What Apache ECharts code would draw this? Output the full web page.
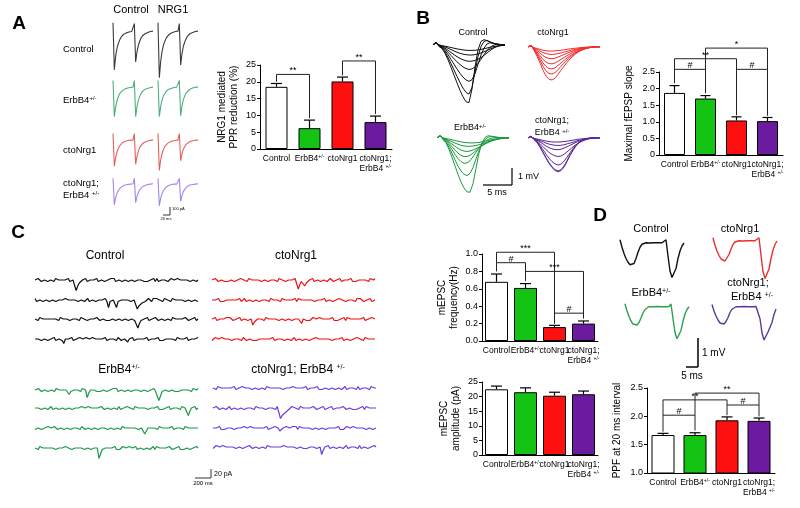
<!DOCTYPE html>
<html><head><meta charset="utf-8">
<script src="https://cdn.jsdelivr.net/npm/echarts@6/dist/echarts.min.js"></script>
<style>html,body{margin:0;padding:0;background:#fff}#c{width:800px;height:508px}</style>
</head><body><div id="c"></div>
<script>
// ---------------- DATA ----------------
const groups = ['Control', 'ErbB4+/-', 'ctoNrg1', 'ctoNrg1;\nErbB4 +/-'];
// A: NRG1 mediated PPR reduction (%)
const pprReduction = [18.5, 6.2, 20.1, 8.0];
const pprReductionErr = [1.0, 2.4, 1.3, 1.8];
const pprSig = [[0, 1, 22.2, 20.0, 9.2, '**'], [2, 3, 26.2, 21.9, 10.4, '**']];
// B: maximal fEPSP slope
const fepspSlope = [1.87, 1.70, 1.04, 1.02];
const fepspSlopeErr = [0.22, 0.09, 0.11, 0.11];
const fepspSig = [[0, 1, 2.58, 2.16, 1.86, '#'], [0, 2, 2.9, 2.58, 1.2, '**'], [1, 3, 3.22, 2.58, 2.58, '*'], [2, 3, 2.58, 1.2, 1.18, '#']];
// C: mEPSC frequency and amplitude
const mepscFreq = [0.68, 0.61, 0.16, 0.20];
const mepscFreqErr = [0.09, 0.05, 0.02, 0.03];
const freqSig = [[0, 1, 0.9, 0.8, 0.69, '#'], [0, 2, 1.02, 0.9, 0.2, '***'], [1, 3, 0.8, 0.69, 0.26, '***'], [2, 3, 0.32, 0.2, 0.26, '#']];
const mepscAmp = [22.5, 21.5, 20.3, 20.8];
const mepscAmpErr = [1.1, 1.5, 1.2, 1.1];
// D: PPF at 20 ms interval
const ppf20 = [1.67, 1.67, 1.93, 1.92];
const ppf20Err = [0.03, 0.04, 0.06, 0.05];
const ppfSig = [[0, 1, 2.02, 1.73, 1.75, '#'], [0, 2, 2.29, 2.02, 2.2, '**'], [1, 3, 2.41, 2.02, 2.2, '**'], [2, 3, 2.2, 2.02, 2.0, '#']];

// A traces (pA): paired EPSCs, [row][column: Control, NRG1]
const epscA = [
  [[16,-91,-60,-42,-31,-23,-17,-13,-10,-8,-7,-6,-5,-4,-4,-3,14,-73,-50,-36,-26,-19,-14,-11,-9,-7,-6,-5,-4,-3,-3],
   [16,-109,-72,-50,-36,-27,-20,-15,-12,-9,-7,-6,-5,-4,-4,-3,14,-80,-54,-38,-28,-21,-15,-12,-9,-7,-6,-5,-4,-3,-3]],
  [[12,-70,-48,-34,-25,-18,-14,-11,-9,-7,-6,-5,-4,-4,-3,-3,12,-70,-47,-33,-24,-18,-13,-10,-8,-7,-6,-5,-4,-3,-3],
   [12,-70,-47,-33,-24,-18,-13,-10,-8,-7,-6,-5,-4,-4,-3,-3,12,-68,-46,-32,-23,-17,-13,-10,-8,-6,-5,-4,-4,-3,-3]],
  [[12,-62,-42,-30,-22,-16,-12,-9,-7,-6,-5,-4,-4,-3,-3,-3,12,-58,-40,-28,-20,-15,-11,-9,-7,-6,-5,-4,-3,-3,-3],
   [12,-72,-48,-34,-25,-18,-14,-11,-9,-7,-6,-5,-4,-4,-3,-3,12,-50,-34,-24,-18,-13,-10,-8,-6,-5,-4,-4,-3,-3,-3]],
  [[10,-50,-34,-24,-18,-13,-10,-8,-6,-5,-4,-4,-3,-3,-3,-2,10,-45,-31,-22,-16,-12,-9,-7,-6,-5,-4,-3,-3,-3,-2],
   [10,-52,-35,-25,-18,-14,-10,-8,-6,-5,-4,-4,-3,-3,-3,-2,10,-42,-29,-20,-15,-11,-8,-7,-5,-4,-4,-3,-3,-3,-2]]
];
// B traces (mV): fEPSPs at increasing stimulus intensity
const fepspControl = [
  [0,0.1,0,-0.05,-0.08,-0.12,-0.16,-0.2,-0.24,-0.27,-0.3,-0.32,-0.33,-0.33,-0.32,-0.3,-0.27,-0.23,-0.19,-0.15,-0.11,-0.08,-0.05,-0.03,-0.02],
  [0,0.1,-0.02,-0.07,-0.13,-0.2,-0.28,-0.36,-0.44,-0.5,-0.55,-0.58,-0.6,-0.6,-0.58,-0.54,-0.48,-0.41,-0.33,-0.25,-0.18,-0.12,-0.07,-0.04,-0.02],
  [0,0.12,-0.03,-0.1,-0.2,-0.32,-0.45,-0.58,-0.7,-0.8,-0.88,-0.94,-0.97,-0.96,-0.92,-0.85,-0.75,-0.62,-0.48,-0.34,-0.22,-0.12,-0.05,-0.02,0],
  [0,0.12,-0.05,-0.12,-0.26,-0.44,-0.63,-0.82,-1.0,-1.16,-1.3,-1.4,-1.45,-1.42,-1.3,-1.1,-0.85,-0.58,-0.34,-0.15,-0.04,0.02,0.02,0,0],
  [0,0.14,-0.06,-0.15,-0.34,-0.58,-0.86,-1.14,-1.42,-1.68,-1.9,-2.07,-2.15,-2.05,-1.7,-1.15,-0.6,-0.2,0.05,0.12,0.1,0.06,0.03,0.01,0],
  [0,0.15,-0.08,-0.18,-0.42,-0.74,-1.1,-1.48,-1.86,-2.22,-2.55,-2.8,-2.9,-2.5,-1.6,-0.7,-0.1,0.2,0.25,0.18,0.1,0.05,0.02,0,0],
  [0,0.16,-0.1,-0.22,-0.5,-0.88,-1.32,-1.78,-2.24,-2.68,-3.06,-3.35,-3.4,-2.6,-1.3,-0.3,0.2,0.3,0.25,0.15,0.08,0.04,0.02,0,0]
];
const fepspCto = [
  [0,0.05,-0.05,-0.1,-0.15,-0.2,-0.23,-0.25,-0.25,-0.24,-0.22,-0.2,-0.18,-0.15,-0.12,-0.1,-0.08,-0.06,-0.04,-0.03,-0.02,-0.01,0,0,0],
  [0,0.05,-0.07,-0.15,-0.25,-0.34,-0.4,-0.44,-0.45,-0.43,-0.4,-0.36,-0.31,-0.27,-0.22,-0.18,-0.14,-0.1,-0.07,-0.05,-0.03,-0.02,-0.01,0,0],
  [0,0.06,-0.1,-0.22,-0.37,-0.52,-0.63,-0.69,-0.7,-0.67,-0.6,-0.53,-0.45,-0.38,-0.31,-0.25,-0.19,-0.14,-0.1,-0.07,-0.04,-0.02,-0.01,0,0],
  [0,0.07,-0.12,-0.3,-0.52,-0.74,-0.9,-0.99,-1.0,-0.95,-0.85,-0.74,-0.63,-0.52,-0.42,-0.33,-0.25,-0.18,-0.12,-0.08,-0.05,-0.03,-0.01,0,0],
  [0,0.08,-0.15,-0.38,-0.66,-0.95,-1.16,-1.28,-1.3,-1.24,-1.1,-0.95,-0.8,-0.66,-0.53,-0.42,-0.32,-0.23,-0.16,-0.1,-0.06,-0.03,-0.01,0,0],
  [0,0.08,-0.18,-0.46,-0.8,-1.15,-1.42,-1.57,-1.6,-1.52,-1.35,-1.15,-0.96,-0.78,-0.62,-0.48,-0.36,-0.26,-0.18,-0.12,-0.07,-0.04,-0.02,0,0],
  [0,0.1,-0.2,-0.55,-0.95,-1.38,-1.72,-1.92,-1.95,-1.85,-1.62,-1.38,-1.14,-0.92,-0.72,-0.55,-0.4,-0.28,-0.19,-0.12,-0.07,-0.04,-0.02,0,0]
];
const fepspErbB4 = [
  [0,0.1,0,-0.04,-0.08,-0.12,-0.16,-0.2,-0.24,-0.27,-0.29,-0.3,-0.3,-0.29,-0.27,-0.24,-0.2,-0.16,-0.12,-0.09,-0.06,-0.04,-0.02,-0.01,0],
  [0,0.1,-0.02,-0.08,-0.15,-0.23,-0.31,-0.38,-0.44,-0.48,-0.5,-0.5,-0.48,-0.45,-0.41,-0.36,-0.3,-0.24,-0.18,-0.13,-0.09,-0.06,-0.03,-0.01,0],
  [0,0.12,-0.04,-0.12,-0.24,-0.37,-0.5,-0.62,-0.72,-0.78,-0.8,-0.78,-0.72,-0.64,-0.55,-0.46,-0.37,-0.28,-0.2,-0.14,-0.09,-0.05,-0.02,0,0],
  [0,0.12,-0.05,-0.15,-0.32,-0.52,-0.72,-0.9,-1.03,-1.1,-1.1,-1.03,-0.9,-0.75,-0.6,-0.46,-0.34,-0.24,-0.16,-0.1,-0.06,-0.03,-0.01,0,0],
  [0,0.13,-0.06,-0.2,-0.42,-0.7,-0.98,-1.22,-1.4,-1.5,-1.48,-1.35,-1.12,-0.86,-0.6,-0.38,-0.22,-0.1,-0.03,0,0.02,0.01,0,0,0],
  [0,0.14,-0.08,-0.25,-0.55,-0.92,-1.3,-1.66,-1.95,-2.15,-2.22,-2.1,-1.75,-1.25,-0.75,-0.35,-0.1,0.03,0.08,0.06,0.03,0.01,0,0,0],
  [0,0.15,-0.1,-0.3,-0.68,-1.15,-1.65,-2.15,-2.6,-2.95,-3.18,-3.2,-2.7,-1.8,-0.9,-0.3,0.02,0.12,0.1,0.06,0.03,0.01,0,0,0]
];
const fepspDouble = [
  [0,0.06,-0.03,-0.07,-0.11,-0.15,-0.19,-0.22,-0.24,-0.25,-0.25,-0.24,-0.22,-0.2,-0.17,-0.14,-0.11,-0.08,-0.06,-0.04,-0.02,-0.01,0,0,0],
  [0,0.07,-0.04,-0.1,-0.17,-0.24,-0.31,-0.37,-0.41,-0.44,-0.45,-0.44,-0.41,-0.36,-0.31,-0.26,-0.2,-0.15,-0.11,-0.07,-0.04,-0.02,-0.01,0,0],
  [0,0.08,-0.05,-0.13,-0.24,-0.36,-0.48,-0.58,-0.65,-0.69,-0.7,-0.67,-0.61,-0.53,-0.44,-0.35,-0.27,-0.2,-0.14,-0.09,-0.05,-0.03,-0.01,0,0],
  [0,0.08,-0.07,-0.18,-0.34,-0.52,-0.7,-0.86,-0.98,-1.06,-1.1,-1.07,-0.97,-0.83,-0.68,-0.53,-0.4,-0.29,-0.2,-0.13,-0.08,-0.04,-0.02,0,0],
  [0,0.09,-0.08,-0.22,-0.44,-0.7,-0.96,-1.2,-1.4,-1.53,-1.6,-1.55,-1.38,-1.14,-0.88,-0.64,-0.44,-0.28,-0.17,-0.1,-0.05,-0.02,0,0,0],
  [0,0.1,-0.1,-0.26,-0.52,-0.84,-1.16,-1.46,-1.7,-1.87,-1.95,-1.88,-1.66,-1.34,-1.0,-0.7,-0.45,-0.27,-0.15,-0.08,-0.04,-0.02,0,0,0],
  [0,0.1,-0.1,-0.28,-0.55,-0.88,-1.2,-1.5,-1.75,-1.92,-2.0,-1.93,-1.72,-1.4,-1.05,-0.74,-0.48,-0.29,-0.16,-0.08,-0.04,-0.02,0,0,0]
];
// C traces: mEPSC recordings, one digit per sample (7 = baseline, lower = inward current)
const mepscControl = [
  '7787677867776877876778677703567786778768677867768786778677867786776786767778686776786787768778787667786 7',
  '8677867786778677876877876776778678677867767786267782677876786777134566787687877868777687787678677867786',
  '7768778767678776877878677877687786778768767786767786778677867786714677786777876778677868776787787667786 7',
  '7876677867778677864767786776877687768778767786778776886778577867787677867767786767767877687787786778768'
];
const mepscCto = [
  '7787677867677867768777687787678677867787768778677876871467356778677867786787667786776778676776787768778',
  '7677867677778767786786778677866787768778776877876778687767877786778768677867768778677877687876677867 7',
  '7786778768787667786778677356777768778767867786778677876478676787768778767786767778687767876778677687 7',
  '6787768778786778776876778676777787677867787667786786778677867768778767778677876867786776877868776787'
];
const mepscErbB4 = [
  '77876778677768778767746778776877257778676778677687867786778677876677867778670367776778676776787768778',
  '78766778678677867786778677876877687787677876778677868677687786877678776776778676777867787768778257786 7',
  '67786776877787677867786778776886778677867787667786777687787677786778357678776877876778677778687767876 7',
  '7768778767778677876877867767778677867787036778767786767877687788677867786786877678778766778676778677687'
];
const mepscDouble = [
  '7868776787677867768778766778677768778767778677876877876778677677867677867786778678677877686778776877 7',
  '7787677867867786778667877687787867787768702345678777687787677876677867778677876876778676777868776787',
  '7677867677778677876877687787676778677687756778776878687767878677867786778767786767877687787876677867 7',
  '6787768778787667786777876778677868776787776877876776778676777786772577867786778678677877686778677687'
];
// D traces (mV): paired-pulse fEPSPs at 20 ms interval
const ppfControl = [0.15,-0.15,-0.4,-0.6,-0.75,-0.85,-0.88,-0.8,-0.6,-0.35,-0.15,-0.03,0.02,0.03,0.03,0.02,0.03,0.03,0.02,0.03,0.02,0.03,0.03,0.15,-0.5,-1.1,-1.36,-1.3,-1.0,-0.6,-0.3,-0.1,0.02];
const ppfCto = [0.15,-0.15,-0.38,-0.56,-0.7,-0.77,-0.78,-0.7,-0.52,-0.3,-0.12,-0.02,0.02,0.03,0.03,0.02,0.03,0.03,0.02,0.03,0.02,0.03,0.03,0.15,-0.55,-1.2,-1.48,-1.42,-1.1,-0.68,-0.34,-0.12,0.02];
const ppfErbB4 = [0.15,-0.14,-0.36,-0.54,-0.66,-0.72,-0.7,-0.6,-0.42,-0.22,-0.08,0.0,0.03,0.04,0.03,0.03,0.04,0.03,0.03,0.04,0.03,0.03,0.04,0.14,-0.45,-1.0,-1.25,-1.2,-0.92,-0.55,-0.26,-0.08,0.03];
const ppfDouble = [0.12,-0.14,-0.34,-0.5,-0.62,-0.68,-0.66,-0.56,-0.4,-0.2,-0.07,0.0,0.03,0.03,0.03,0.03,0.04,0.03,0.03,0.03,0.03,0.03,0.04,0.12,-0.45,-1.02,-1.3,-1.22,-0.98,-0.92,-0.6,-0.28,-0.06];

// ---------------- BUILD ----------------
const FONT = '"Liberation Sans", Arial, sans-serif';
const barColors = ['#ffffff', '#14c414', '#ff1010', '#6c1aa0'];
const grids = [], xAxes = [], yAxes = [], series = [];
const supRich = fs => ({ s: { fontSize: Math.round(fs * 0.62), verticalAlign: 'top', lineHeight: Math.round(fs * 0.62), fontFamily: FONT, fill: '#000', color: '#000' } });
const catFmt = v => v.replace('+/-', '{s|+/-}');

function barPanel(o) {
  const gi = grids.length;
  grids.push({ left: o.left, top: o.top, width: o.width, height: o.height });
  xAxes.push({ type: 'category', gridIndex: gi, data: groups,
    axisLine: { lineStyle: { color: '#000', width: 1 } }, axisTick: { show: false },
    axisLabel: { interval: 0, formatter: catFmt, fontSize: o.catFs || 8.5, color: '#000', fontFamily: FONT, margin: 5, lineHeight: 10, rich: supRich(o.catFs || 8.5) } });
  yAxes.push({ type: 'value', gridIndex: gi, min: o.min, max: o.max, interval: o.interval,
    name: o.name, nameLocation: 'middle', nameGap: o.nameGap, nameRotate: 90,
    nameTextStyle: { fontSize: o.nameFs || 10, fontFamily: FONT, color: '#000', lineHeight: 12 },
    axisLine: { show: true, lineStyle: { color: '#000' } }, axisTick: { show: true, length: 3, lineStyle: { color: '#000' } },
    axisLabel: { fontSize: 9, color: '#000', fontFamily: FONT, margin: 4, formatter: o.fmt }, splitLine: { show: false } });
  series.push({ type: 'bar', xAxisIndex: gi, yAxisIndex: gi, barWidth: o.barWidth, silent: true,
    data: o.values.map((v, i) => ({ value: v, itemStyle: { color: barColors[i] } })),
    itemStyle: { borderColor: '#000', borderWidth: 1 } });
  series.push({ type: 'custom', xAxisIndex: gi, yAxisIndex: gi, silent: true, z: 3, clip: false,
    data: o.values.map((v, i) => [i, v, o.errs[i]]), encode: { x: 0, y: 1 },
    renderItem: (p, api) => {
      const x = api.value(0), v = api.value(1), e = api.value(2);
      const a = api.coord([x, v]), b = api.coord([x, v + e]); const hw = o.capW / 2;
      return { type: 'group', children: [
        { type: 'line', shape: { x1: a[0], y1: a[1], x2: b[0], y2: b[1] }, style: { stroke: '#000', lineWidth: 1.2 } },
        { type: 'line', shape: { x1: b[0] - hw, y1: b[1], x2: b[0] + hw, y2: b[1] }, style: { stroke: '#000', lineWidth: 1.2 } }] };
    } });
  series.push({ type: 'custom', xAxisIndex: gi, yAxisIndex: gi, silent: true, z: 4, clip: false,
    data: o.sig.map(b => b.slice(0, 5)), encode: { x: 0, y: 2 },
    renderItem: (p, api) => {
      const i = api.value(0), j = api.value(1), h = api.value(2), bi = api.value(3), bj = api.value(4);
      const p1 = api.coord([i, bi]), p2 = api.coord([i, h]), p3 = api.coord([j, h]), p4 = api.coord([j, bj]);
      const lab = o.sig[p.dataIndex][5];
      return { type: 'group', children: [
        { type: 'polyline', shape: { points: [p1, p2, p3, p4] }, style: { stroke: '#222', lineWidth: 1, fill: null } },
        { type: 'text', x: (p2[0] + p3[0]) / 2, y: p2[1] + 1, style: { text: lab, align: 'center', verticalAlign: 'bottom', fontSize: 9, fontFamily: FONT, fill: '#000' } }] };
    } });
}

function tracePanel(rect, xmax, ymin, ymax, traces, color, width) {
  const gi = grids.length;
  grids.push(rect);
  xAxes.push({ type: 'value', gridIndex: gi, min: 0, max: xmax, show: false });
  yAxes.push({ type: 'value', gridIndex: gi, min: ymin, max: ymax, show: false });
  traces.forEach(t => series.push({ type: 'line', xAxisIndex: gi, yAxisIndex: gi, silent: true, clip: false,
    data: t.map((v, i) => [i, v]), symbol: 'none', lineStyle: { color: color, width: width } }));
}
const digits = s => s.replace(/ /g, '').split('').map(Number);

// A traces
const aColors = ['#3a3a3a', '#4cb07e', '#e8605a', '#a585e8'];
const aTops = [21, 77, 130, 174];
const aLefts = [113, 158];
epscA.forEach((row, r) => row.forEach((tr, c) =>
  tracePanel({ left: aLefts[c], top: aTops[r], width: 40, height: 59.4 }, 30, -115, 20, [tr], aColors[r], 1.1)));
// B traces
tracePanel({ left: 433, top: 38, width: 72, height: 71.4 }, 24, -3.8, 0.4, fepspControl, '#111111', 1);
tracePanel({ left: 528, top: 40, width: 72, height: 71.4 }, 24, -3.8, 0.4, fepspCto, '#f03030', 1);
tracePanel({ left: 437, top: 131, width: 72, height: 71.4 }, 24, -3.8, 0.4, fepspErbB4, '#1d9a40', 1);
tracePanel({ left: 528, top: 131, width: 72, height: 71.4 }, 24, -3.8, 0.4, fepspDouble, '#5a2a9a', 1);
// C traces
const cSets = [
  [mepscControl, 35, [280, 300, 319, 339], '#111111'],
  [mepscCto, 212, [280, 300, 319, 339], '#f01010'],
  [mepscErbB4, 35, [390, 408, 428, 448], '#1a9a4a'],
  [mepscDouble, 213, [388, 408, 428, 447], '#6a3de0']
];
cSets.forEach(([rows, left, bases, col]) => rows.forEach((s, k) => {
  const d = digits(s);
  tracePanel({ left: left, top: bases[k] - 4.5, width: 163, height: 16.5 }, d.length - 1, -1, 10, [d], col, 1.2);
}));
// D traces
tracePanel({ left: 620, top: 236, width: 64, height: 47.5 }, 32, -1.6, 0.3, [ppfControl], '#111111', 1.4);
tracePanel({ left: 713, top: 234, width: 64, height: 47.5 }, 32, -1.6, 0.3, [ppfCto], '#e83030', 1.4);
tracePanel({ left: 625, top: 300, width: 64, height: 47.5 }, 32, -1.6, 0.3, [ppfErbB4], '#2aa050', 1.4);
tracePanel({ left: 712, top: 300, width: 64, height: 47.5 }, 32, -1.6, 0.3, [ppfDouble], '#5a3a9a', 1.4);

// Bar charts
barPanel({ left: 260, top: 65, width: 132, height: 84, min: 0, max: 25, interval: 5, values: pprReduction, errs: pprReductionErr, sig: pprSig,
  barWidth: 22, capW: 11, name: 'NRG1 mediated\nPPR reduction (%)', nameGap: 20 });
barPanel({ left: 659, top: 72, width: 124, height: 83, min: 0, max: 2.5, interval: 0.5, values: fepspSlope, errs: fepspSlopeErr, sig: fepspSig,
  barWidth: 21, capW: 10, name: 'Maximal fEPSP slope', nameGap: 24, fmt: v => v === 0 ? '0' : v.toFixed(1) });
barPanel({ left: 482, top: 254, width: 116, height: 87, min: 0, max: 1.0, interval: 0.2, values: mepscFreq, errs: mepscFreqErr, sig: freqSig,
  barWidth: 23, capW: 11, name: 'mEPSC\nfrequency(Hz)', nameGap: 22, fmt: v => v.toFixed(1) });
barPanel({ left: 482, top: 382, width: 116, height: 73, min: 0, max: 25, interval: 5, values: mepscAmp, errs: mepscAmpErr, sig: [],
  barWidth: 23, capW: 11, name: 'mEPSC\namplitude (pA)', nameGap: 20 });
barPanel({ left: 647, top: 388, width: 128, height: 85, min: 1.0, max: 2.5, interval: 0.5, values: ppf20, errs: ppf20Err, sig: ppfSig,
  barWidth: 23, capW: 11, name: 'PPF at 20 ms interval', nameGap: 24, fmt: v => v.toFixed(1) });

// ---------------- TEXT & SCALE BARS ----------------
const G = [];
function T(x, y, text, fs, o) {
  o = o || {};
  G.push({ type: 'text', x: x, y: y, silent: true, z: 10,
    style: { text: text, fontSize: fs, fontFamily: FONT, fill: '#000', align: o.align || 'center', verticalAlign: 'middle',
      fontWeight: o.bold ? 'bold' : 'normal', rich: supRich(fs) } });
}
function L(x1, y1, x2, y2, w) {
  G.push({ type: 'line', silent: true, z: 10, shape: { x1: x1, y1: y1, x2: x2, y2: y2 }, style: { stroke: '#000', lineWidth: w || 1.2 } });
}
// panel letters
T(19, 24, 'A', 19, { bold: true });
T(423, 19, 'B', 19, { bold: true });
T(18, 233, 'C', 19, { bold: true });
T(600, 216, 'D', 19, { bold: true });
// A
T(131, 10, 'Control', 11); T(173, 10, 'NRG1', 11);
T(63, 49, 'Control', 9.5, { align: 'left' });
T(63, 100, 'ErbB4{s|+/-}', 9.5, { align: 'left' });
T(63, 150, 'ctoNrg1', 9.5, { align: 'left' });
T(63, 183, 'ctoNrg1;', 9.5, { align: 'left' });
T(63, 195, 'ErbB4 {s|+/-}', 9.5, { align: 'left' });
L(170, 207, 170, 215, 0.8); L(163, 215, 170, 215, 0.8);
T(172, 209, '100 pA', 4, { align: 'left' }); T(166, 219, '20 ms', 4);
// B
T(473, 33, 'Control', 9); T(553, 33, 'ctoNrg1', 9);
T(470, 128, 'ErbB4{s|+/-}', 9); T(552, 121, 'ctoNrg1;', 9); T(552, 133, 'ErbB4 {s|+/-}', 9);
L(512, 168, 512, 185); L(483, 185, 512, 185);
T(518, 177, '1 mV', 9, { align: 'left' }); T(497, 193, '5 ms', 9);
// C
T(105, 256, 'Control', 12); T(296, 256, 'ctoNrg1', 12);
T(119, 370, 'ErbB4{s|+/-}', 12); T(298, 370, 'ctoNrg1; ErbB4 {s|+/-}', 12);
L(211, 469, 211, 478, 0.8); L(195, 478, 211, 478, 0.8);
T(214, 474, '20 pA', 7, { align: 'left' }); T(203, 483, '200 ms', 6);
// D
T(651, 229, 'Control', 11); T(740, 229, 'ctoNrg1', 11);
T(651, 293, 'ErbB4{s|+/-}', 11); T(748, 283, 'ctoNrg1;', 11); T(752, 297, 'ErbB4 {s|+/-}', 11);
L(698, 338, 698, 367, 1.5); L(686, 367, 698, 367, 1.5);
T(702, 353, '1 mV', 10, { align: 'left' }); T(692, 376, '5 ms', 10);

const chart = echarts.init(document.getElementById('c'), null, { renderer: 'canvas' });
chart.setOption({ animation: false, backgroundColor: '#fff', grid: grids, xAxis: xAxes, yAxis: yAxes, series: series, graphic: { elements: G } });
</script></body></html>
